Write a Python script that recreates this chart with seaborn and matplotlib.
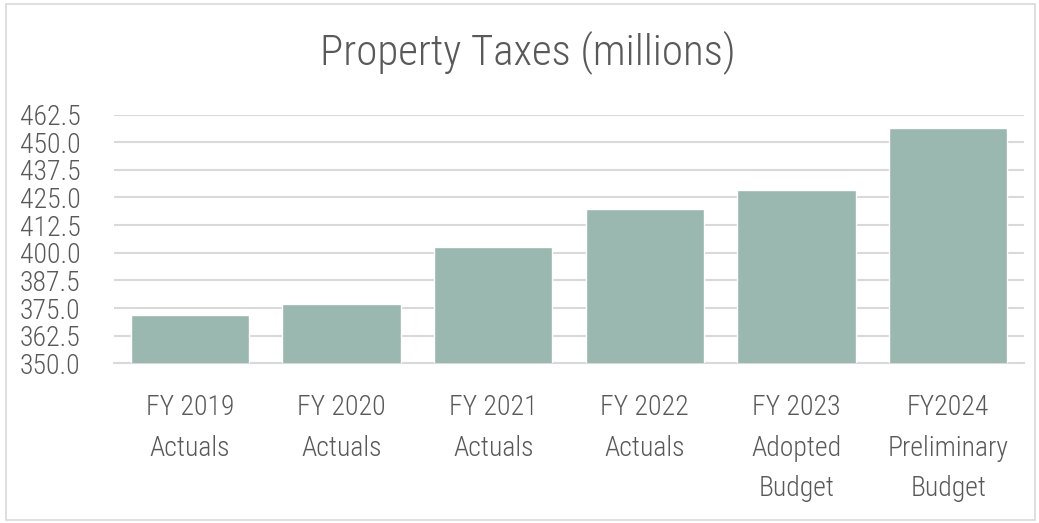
import matplotlib
matplotlib.use("Agg")
import matplotlib.pyplot as plt
import seaborn as sns
import pandas as pd
from matplotlib.patches import Rectangle
from matplotlib import font_manager as fm

categories = ["FY 2019\nActuals", "FY 2020\nActuals", "FY 2021\nActuals",
              "FY 2022\nActuals", "FY 2023\nAdopted\nBudget", "FY2024\nPreliminary\nBudget"]
values = [371.8, 376.8, 402.4, 419.7, 428.6, 456.3]
y_ticks = [350.0, 362.5, 375.0, 387.5, 400.0, 412.5, 425.0, 437.5, 450.0, 462.5]

sns.set_style("white")
plt.rcParams['font.family'] = ['DejaVu Sans']

# pick a light condensed face by file
light = None
for fam in ['Open Sans Condensed', 'Roboto Condensed', 'Fira Sans Condensed', 'Encode Sans Condensed']:
    hits = [f.fname for f in fm.fontManager.ttflist
            if f.name == fam and str(f.weight) in ('300', 'light') and f.style == 'normal']
    if hits:
        light = hits[0]
        break

def fp(size):
    if light:
        return fm.FontProperties(fname=light, size=size)
    return fm.FontProperties(family='DejaVu Sans', stretch='condensed', size=size)

text_color = '#595959'
grid_color = '#D9D9D9'
bar_color = '#9BB8B0'

df = pd.DataFrame({'category': categories, 'value': values})

fig = plt.figure(figsize=(10.39, 5.23), dpi=100)
ax = fig.add_axes([0.1097, 0.3053, 0.8759, 0.4757])
sns.barplot(data=df, x='category', y='value', color=bar_color, width=0.78,
            saturation=1, ax=ax, zorder=3)
ax.set_ylim(350, 462.5)
ax.set_yticks(y_ticks)
ax.set_yticklabels([f'{t:.1f}' for t in y_ticks])
ax.set_xlabel('')
ax.set_ylabel('')
ax.yaxis.grid(True, color=grid_color, lw=1.5, zorder=0)
for s in ['top', 'right', 'left']:
    ax.spines[s].set_visible(False)
ax.spines['bottom'].set_color(grid_color)
ax.spines['bottom'].set_linewidth(1.5)
ax.tick_params(axis='y', length=0, pad=24, labelcolor=text_color)
ax.tick_params(axis='x', length=0, pad=22, labelcolor=text_color)
for lbl in ax.get_xticklabels():
    lbl.set_fontproperties(fp(20))
    lbl.set_linespacing(1.65)
    lbl.set_va('top')
for lbl in ax.get_yticklabels():
    lbl.set_fontproperties(fp(20))

fig.text(0.508, 0.90, 'Property Taxes (millions)', ha='center', va='center',
         color=text_color, fontproperties=fp(31))

fig.patches.append(Rectangle((0.006, 0.006), 0.99, 0.986, transform=fig.transFigure,
                             fill=False, edgecolor=grid_color, lw=1.2))

plt.savefig('out.png', dpi=100)
plt.close(fig)
